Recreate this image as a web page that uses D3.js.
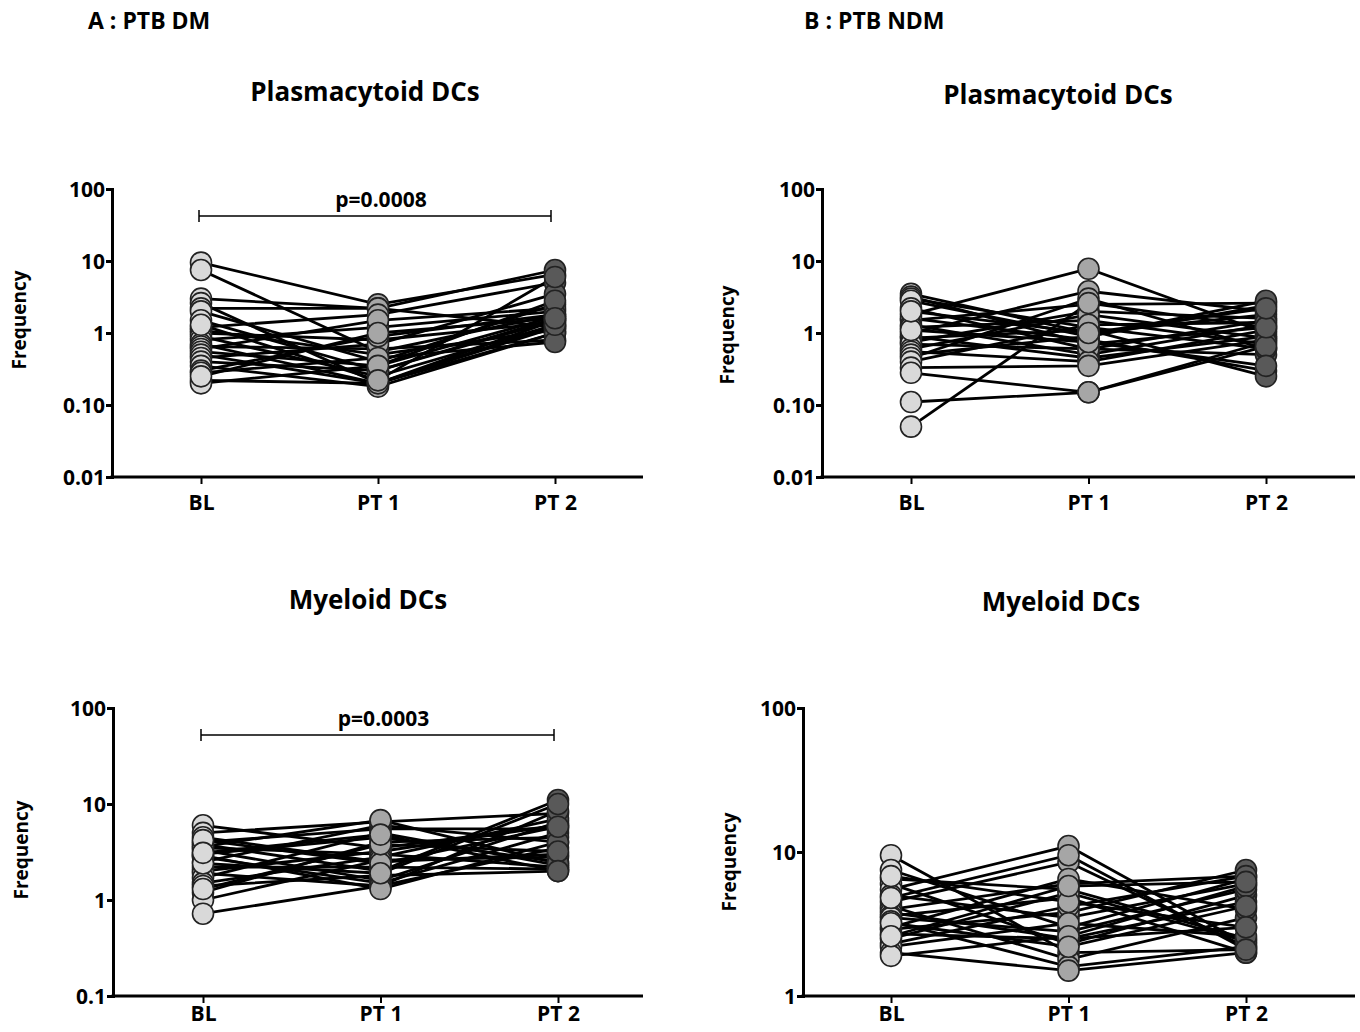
<!DOCTYPE html>
<html>
<head>
<meta charset="utf-8">
<script src="https://cdn.jsdelivr.net/npm/d3@7"></script>
<style>
  body { margin: 0; background: #fff; }
  svg { display: block; }
  text { font-family: "Open Sans", sans-serif; fill: #000; }
  .tick text { font-weight: 700; font-size: 21px; }
  .title { font-weight: 700; font-size: 26px; }
  .head { font-weight: 700; font-size: 23px; }
  .ylab { font-weight: 700; font-size: 19px; }
  .pval { font-weight: 700; font-size: 21px; }
</style>
</head>
<body>
<svg id="chart" width="1360" height="1032"></svg>
<script>
const timepoints = ["BL", "PT 1", "PT 2"];
const pointFill = ["#d9d9d9", "#a6a6a6", "#595959"];

// each row: one patient, [BL, PT 1, PT 2]
const dmPdc = [
  [9.5, 2.5, 6.5], [7.5, 0.55, 1.8], [3.0, 2.2, 7.5], [2.6, 0.2, 1.5],
  [2.2, 2.2, 1.2], [2.0, 0.4, 2.5], [1.5, 0.3, 1.6], [1.2, 1.8, 5.0],
  [1.1, 0.5, 1.1], [1.0, 0.8, 1.4], [0.9, 0.25, 1.3], [0.8, 1.2, 2.0],
  [0.7, 0.2, 1.0], [0.65, 0.6, 0.8], [0.6, 1.5, 2.2], [0.55, 0.35, 1.7],
  [0.5, 0.2, 1.2], [0.45, 0.7, 3.5], [0.4, 0.3, 1.5], [0.35, 0.18, 1.0],
  [0.3, 0.9, 1.8], [0.28, 0.45, 0.75], [0.22, 0.2, 1.3], [0.2, 0.35, 2.8],
  [0.25, 1.0, 1.6], [1.3, 0.22, 6.0]
];
const ndmPdc = [
  [3.5, 1.0, 1.8], [3.2, 0.7, 1.2], [3.0, 1.2, 0.6], [2.8, 0.9, 2.4],
  [2.2, 0.6, 1.5], [1.8, 7.8, 1.0], [1.6, 0.8, 0.3], [1.5, 2.5, 2.6],
  [1.3, 0.5, 1.3], [1.2, 1.5, 0.7], [1.0, 3.8, 2.0], [0.9, 0.45, 0.9],
  [0.85, 1.1, 0.25], [0.75, 2.0, 1.6], [0.7, 0.6, 0.5], [0.6, 1.8, 0.85],
  [0.55, 0.4, 1.1], [0.5, 0.9, 2.8], [0.45, 3.0, 0.6], [0.4, 1.3, 1.4],
  [0.33, 0.35, 0.8], [0.28, 0.15, 0.75], [0.11, 0.15, 0.65], [0.05, 2.6, 1.2],
  [1.1, 0.75, 0.35], [2.0, 1.0, 2.2]
];
const dmMdc = [
  [6.0, 3.5, 6.0], [5.0, 6.5, 8.0], [4.5, 2.5, 3.0], [4.0, 5.5, 5.5],
  [3.8, 2.0, 11.0], [3.5, 3.0, 2.2], [3.3, 1.6, 6.5], [3.0, 4.5, 2.5],
  [2.8, 1.5, 5.0], [2.5, 6.0, 4.0], [2.2, 2.2, 2.1], [2.0, 3.2, 6.0],
  [1.9, 1.4, 3.5], [1.7, 5.0, 2.3], [1.5, 2.8, 7.0], [1.4, 1.8, 2.0],
  [1.2, 4.0, 4.5], [1.0, 2.6, 2.8], [0.72, 1.4, 8.5], [3.6, 6.8, 2.4],
  [2.9, 1.3, 4.0], [4.2, 2.4, 5.8], [1.3, 3.8, 3.2], [2.4, 1.9, 10.0],
  [3.1, 4.8, 2.0]
];
const ndmMdc = [
  [9.5, 2.0, 2.1], [7.5, 3.0, 6.5], [6.5, 5.5, 2.5], [6.0, 2.3, 5.0],
  [5.5, 11.0, 2.3], [5.0, 3.5, 6.0], [4.5, 8.5, 2.2], [4.2, 1.8, 3.5],
  [4.0, 6.0, 6.8], [3.8, 2.5, 4.5], [3.6, 4.8, 2.0], [3.5, 2.8, 5.5],
  [3.3, 1.6, 2.2], [3.0, 6.5, 4.0], [2.9, 3.8, 7.5], [2.7, 2.5, 3.0],
  [2.5, 5.2, 2.4], [2.3, 4.2, 6.8], [2.2, 3.2, 2.6], [2.0, 1.5, 2.0],
  [1.9, 2.6, 5.8], [6.8, 4.5, 3.0], [4.8, 9.5, 2.1], [3.2, 2.2, 4.2],
  [2.6, 5.8, 6.2]
];

const topTicks = [0.01, 0.1, 1, 10, 100];
const topTickLabels = ["0.01", "0.10", "1", "10", "100"];
const dmMdcTicks = [0.1, 1, 10, 100];
const dmMdcTickLabels = ["0.1", "1", "10", "100"];
const ndmMdcTicks = [1, 10, 100];
const ndmMdcTickLabels = ["1", "10", "100"];

const panels = [
  { data: dmPdc, title: "Plasmacytoid DCs", ticks: topTicks, labels: topTickLabels, pval: "p=0.0008",
    ax: 112, top: 189, bottom: 477, right: 643, x0: 201, x1: 555, titleX: 365, titleY: 101, ylabX: 26, ylabY: 320, xpad: 11 },
  { data: ndmPdc, title: "Plasmacytoid DCs", ticks: topTicks, labels: topTickLabels, pval: null,
    ax: 822, top: 189, bottom: 477, right: 1355, x0: 911, x1: 1266, titleX: 1058, titleY: 104, ylabX: 734, ylabY: 335, xpad: 11 },
  { data: dmMdc, title: "Myeloid DCs", ticks: dmMdcTicks, labels: dmMdcTickLabels, pval: "p=0.0003",
    ax: 113, top: 708, bottom: 996, right: 643, x0: 203, x1: 558, titleX: 368, titleY: 609, ylabX: 28, ylabY: 850, xpad: 3 },
  { data: ndmMdc, title: "Myeloid DCs", ticks: ndmMdcTicks, labels: ndmMdcTickLabels, pval: null,
    ax: 803, top: 708, bottom: 996, right: 1355, x0: 891, x1: 1246, titleX: 1061, titleY: 611, ylabX: 736, ylabY: 862, xpad: 3 }
];

const svg = d3.select("#chart");

svg.append("text").attr("class", "head").attr("x", 88).attr("y", 29).text("A : PTB DM");
svg.append("text").attr("class", "head").attr("x", 804).attr("y", 29).text("B : PTB NDM");

panels.forEach(p => {
  const g = svg.append("g");
  const ext = d3.extent(p.ticks);
  const y = d3.scaleLog().domain(ext).range([p.bottom, p.top]);
  const x = d3.scalePoint().domain(timepoints).range([p.x0, p.x1]);

  g.append("text").attr("class", "title")
    .attr("x", p.titleX).attr("y", p.titleY)
    .attr("text-anchor", "middle").text(p.title);

  g.append("text").attr("class", "ylab")
    .attr("transform", `translate(${p.ylabX},${p.ylabY}) rotate(-90)`)
    .attr("text-anchor", "middle").text("Frequency");

  // y axis
  const yAxis = d3.axisLeft(y)
    .tickValues(p.ticks)
    .tickFormat((d, i) => p.labels[i])
    .tickSizeOuter(0).tickSize(6).tickPadding(1);
  const gy = g.append("g").attr("transform", `translate(${p.ax},0)`).call(yAxis);
  gy.select(".domain").attr("stroke-width", 3).attr("stroke", "#000");
  gy.selectAll(".tick line").attr("stroke-width", 3);
  gy.selectAll(".tick text").attr("dy", "0.35em");

  // x axis, line runs past the last group
  const xAxis = d3.axisBottom(x).tickSizeOuter(0).tickSize(7).tickPadding(p.xpad);
  const gx = g.append("g").attr("transform", `translate(0,${p.bottom})`).call(xAxis);
  gx.select(".domain").remove();
  gx.selectAll(".tick line").attr("stroke-width", 2);
  gx.append("line")
    .attr("x1", p.ax - 1.5).attr("x2", p.right)
    .attr("stroke", "#000").attr("stroke-width", 3);

  // significance bracket
  if (p.pval) {
    const by = y(ext[1]) + 27;
    const xa = x("BL") - 2, xb = x("PT 2") - 4;
    g.append("path")
      .attr("d", `M${xa},${by - 6}V${by + 6}M${xa},${by}H${xb}M${xb},${by - 6}V${by + 6}`)
      .attr("fill", "none").attr("stroke", "#000").attr("stroke-width", 1.5);
    g.append("text").attr("class", "pval")
      .attr("x", (xa + xb) / 2 + 6).attr("y", by - 9)
      .attr("text-anchor", "middle").text(p.pval);
  }

  const line = d3.line()
    .x((d, i) => x(timepoints[i]))
    .y(d => y(d));

  g.append("g").selectAll("path")
    .data(p.data).join("path")
    .attr("d", line)
    .attr("fill", "none")
    .attr("stroke", "#000")
    .attr("stroke-width", 2.8);

  timepoints.forEach((t, i) => {
    g.append("g").selectAll("circle")
      .data(p.data).join("circle")
      .attr("cx", x(t))
      .attr("cy", d => y(d[i]))
      .attr("r", 10.5)
      .attr("fill", pointFill[i])
      .attr("stroke", "#222")
      .attr("stroke-width", 1.6);
  });
});
</script>
</body>
</html>
